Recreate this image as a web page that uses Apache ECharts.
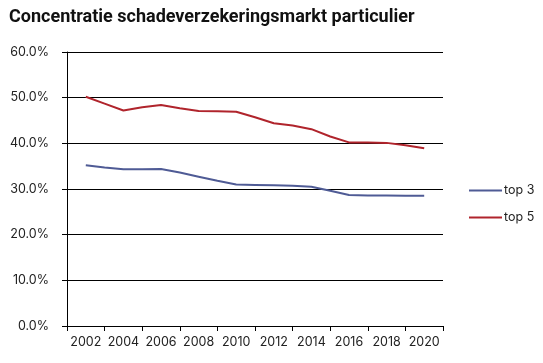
<!DOCTYPE html>
<html>
<head>
<meta charset="utf-8">
<script src="https://cdn.jsdelivr.net/npm/echarts@6/dist/echarts.min.js"></script>
<style>
html,body{margin:0;padding:0;background:#fff;}
#chart{width:543px;height:363px;}
</style>
</head>
<body>
<div id="chart"></div>
<script>
var title = 'Concentratie schadeverzekeringsmarkt particulier';
var tickLabels = ['2002','2004','2006','2008','2010','2012','2014','2016','2018','2020'];
var years = [2002,2003,2004,2005,2006,2007,2008,2009,2010,2011,2012,2013,2014,2015,2016,2017,2018,2019,2020];
var top3 = [35.2,34.7,34.3,34.3,34.4,33.6,32.7,31.8,31.0,30.9,30.8,30.7,30.5,29.6,28.7,28.6,28.6,28.5,28.5];
var top5 = [50.2,48.7,47.2,47.9,48.4,47.7,47.1,47.0,46.9,45.7,44.4,43.9,43.1,41.5,40.2,40.2,40.1,39.6,38.9];
var seriesNames = ['top 3','top 5'];

function pairs(vals){ return years.map(function(y,i){ return [y, vals[i]]; }); }

var chart = echarts.init(document.getElementById('chart'), null, {renderer:'canvas'});
var labelFont = 'Inter';
chart.setOption({
  animation:false,
  backgroundColor:'#ffffff',
  title:{
    text:title, left:4, top:3,
    textStyle:{fontFamily:'Roboto', fontWeight:'bold', fontSize:18, color:'#111'}
  },
  legend:{
    orient:'vertical', left:464, top:179, itemGap:14,
    itemWidth:33, itemHeight:2, icon:'rect',
    textStyle:{fontFamily:labelFont, fontSize:12.5, color:'#222', padding:[0,0,0,-3]},
    data:seriesNames
  },
  grid:{left:67, right:100, top:52, bottom:37, containLabel:false},
  xAxis:[{
    type:'category', data:tickLabels, boundaryGap:true,
    axisLine:{show:true, lineStyle:{color:'#000', width:1}},
    axisTick:{show:true, interval:0, length:5, lineStyle:{color:'#000'}},
    axisLabel:{interval:0, fontFamily:labelFont, fontSize:12.5, color:'#222', margin:10},
    splitLine:{show:false}
  },{
    type:'value', min:2001, max:2021, show:false
  }],
  yAxis:{
    type:'value', min:0, max:60, interval:10,
    axisLine:{show:true, lineStyle:{color:'#000', width:1}},
    axisTick:{show:true, length:5, lineStyle:{color:'#000'}},
    axisLabel:{fontFamily:labelFont, fontSize:12.5, color:'#222', margin:18,
      formatter:function(v){ return v.toFixed(1)+'%'; }},
    splitLine:{show:true, lineStyle:{color:'#000', width:1}}
  },
  series:[{
    name:seriesNames[0], type:'line', xAxisIndex:1, data:pairs(top3),
    showSymbol:false, symbol:'none', lineStyle:{width:2, color:'#4f5b95'}, itemStyle:{color:'#4f5b95'}
  },{
    name:seriesNames[1], type:'line', xAxisIndex:1, data:pairs(top5),
    showSymbol:false, symbol:'none', lineStyle:{width:2, color:'#b0242c'}, itemStyle:{color:'#b0242c'}
  }]
});
</script>
</body>
</html>
